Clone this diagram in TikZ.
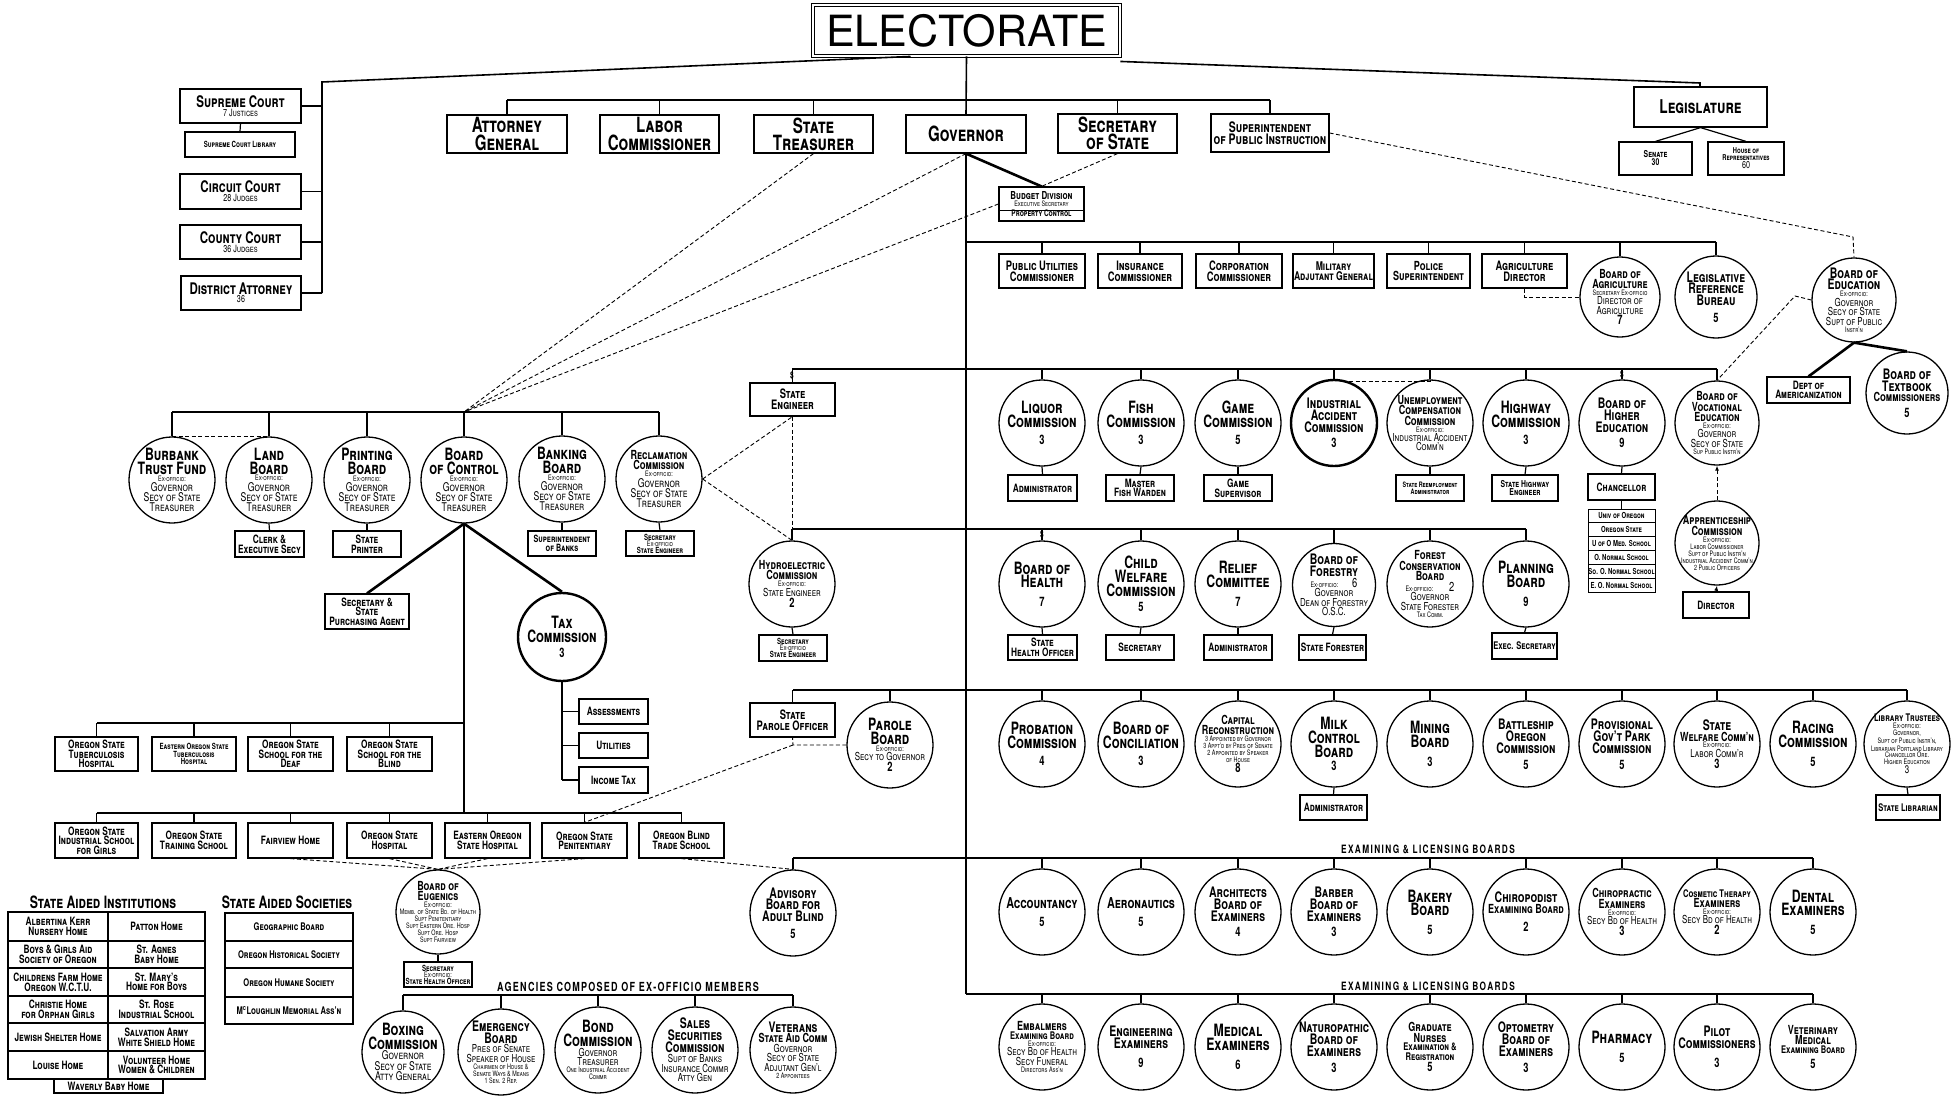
\documentclass[tikz,border=0pt]{standalone}
\usepackage{fontspec}
\setmainfont{TeX Gyre Heros}[FakeStretch=0.72]
\newfontfamily\widefont{TeX Gyre Heros}
\usetikzlibrary{arrows.meta}
\newcommand\xE{\fontsize{7.5}{0}\selectfont\mdseries}
\newcommand\xN{\fontsize{12}{0}\selectfont\mdseries}
\newcommand\xNn{\fontsize{11}{0}\selectfont\mdseries}
\newcommand\xM{\fontsize{13}{0}\selectfont}
\newcommand\xT{\fontsize{12.5}{0}\selectfont}
\newcommand\xTm{\fontsize{14.5}{0}\selectfont}
\newcommand\xTs{\fontsize{10.5}{0}\selectfont}
\newcommand\xB{\fontsize{10}{0}\selectfont\mdseries}
\newcommand\bxfont{\fontsize{11.5}{0}\selectfont\lineskip=1pt\scshape\bfseries}
\newcommand\topfont{\fontsize{21}{0}\selectfont\lineskip=1.5pt\scshape\bfseries}
\newcommand\midfont{\fontsize{16}{0}\selectfont\lineskip=1.2pt\scshape\bfseries}
\newcommand\labfont{\fontsize{11.5}{11.5}\selectfont\bfseries\addfontfeature{LetterSpace=12}}
\newcommand\Rect[7][]{\node[bx,minimum width={(#5-#3)*1pt},minimum height={(#6-#4)*1pt},#1] (#2) at ({(#3+#5)/2},{(#4+#6)/2}) {#7};}
\newcommand\Circ[4][]{\node[cbox,#1] (#2) at (#3) {}; \node[ctext] (#2-t) at (#2.center) {#4};}
\begin{document}
\begin{tikzpicture}[x=1pt,y=-1pt,
 bx/.style={draw,line width=1.2pt,inner sep=1pt,align=center,font=\bxfont},
 unibox/.style={line width=0.8pt,inner sep=0.5pt,font={\fontsize{8.3}{0}\selectfont\scshape\bfseries}},
 rowa/.style={font={\fontsize{13}{0}\selectfont\lineskip=1.5pt\scshape\bfseries}},
 cbox/.style={draw,circle,line width=1.3pt,minimum size=86pt,inner sep=0pt},
 ctext/.style={align=center,inner sep=0pt,font={\fontsize{17}{0}\selectfont\lineskip=1.2pt\scshape\bfseries}},
 ln/.style={line width=1.6pt},
 sl/.style={line width=1.2pt},
 tl/.style={line width=2.6pt},
 dsh/.style={line width=0.9pt,dash pattern=on 4pt off 2.5pt},
 tbl/.style={line width=1.2pt}]
\useasboundingbox (0,0) rectangle (1959,1097);
% ---------------- top level
\Rect[font={\widefont\fontsize{43}{43}\selectfont},double,double distance=1.6pt,line width=0.9pt]{elect}{813}{5}{1120}{56}{ELECTORATE}
\Rect[font=\topfont]{ag}{447}{115}{567}{153}{Attorney\\General}
\Rect[font=\topfont]{labor}{600}{115}{719}{153}{Labor\\Commissioner}
\Rect[font=\topfont]{treas}{754}{115}{873}{153}{State\\Treasurer}
\Rect[font=\topfont]{gov}{906}{115}{1026}{153}{Governor}
\Rect[font=\topfont]{secst}{1058}{114}{1177}{153}{Secretary\\of State}
\Rect[font={\fontsize{14.5}{0}\selectfont\lineskip=1pt\scshape\bfseries}]{supt}{1211}{114}{1329}{152}{Superintendent\\of Public Instruction}
\coordinate (tb) at (966,100);
\draw[ln] (ag.north |- tb) -- (supt.north |- tb);
\foreach \q in {ag,labor,treas,secst,supt} \draw[ln] (\q.north) -- (\q.north |- tb);
\draw[ln] (elect.south) -- (gov.north);
% courts
\Rect[font=\midfont]{sc}{180}{89}{301}{123}{Supreme Court\\\xB 7 Justices}
\Rect[font={\fontsize{8.5}{0}\selectfont\scshape\bfseries}]{scl}{185}{132}{295}{157}{Supreme Court Library}
\Rect[font=\midfont]{cc}{180}{174}{301}{209}{Circuit Court\\\xB 28 Judges}
\Rect[font=\midfont]{coc}{180}{225}{301}{259}{County Court\\\xB 36 Judges}
\Rect[font=\midfont]{da}{181}{276}{301}{310}{District Attorney\\\xB 36}
\coordinate (eL) at ([xshift=-56pt]elect.south);
\coordinate (ck) at (322,82);
\draw[ln] (eL) -- (ck) -- (ck |- da.east);
\foreach \q in {sc,cc,coc,da} \draw[ln] (\q.east) -- (\q.east -| ck);
\draw[sl] (sc.south) -- (scl.north);
% legislature
\Rect[font={\fontsize{19}{0}\selectfont\scshape\bfseries}]{leg}{1634}{87}{1767}{127}{Legislature}
\Rect[font={\fontsize{9.5}{0}\selectfont\lineskip=1pt\scshape\bfseries}]{senate}{1619}{142}{1692}{175}{Senate\\30}
\Rect[font={\fontsize{8}{0}\selectfont\lineskip=1pt\scshape\bfseries}]{house}{1708}{142}{1784}{175}{House of\\Representatives\\\xB 60}
\coordinate (lk) at (1700,83);
\draw[ln] ([yshift=-5pt]elect.south east) -- (lk) -- (lk |- leg.north);
\draw[sl] (leg.south) -- (senate.north);
\draw[sl] (leg.south) -- (house.north);
% budget
\Rect[font={\fontsize{11}{0}\selectfont\lineskip=1pt\scshape\bfseries}]{budget}{999}{187}{1084}{221}{Budget Division\\\xE Executive Secretary\\[2pt]\fontsize{9}{0}\selectfont Property Control}
\draw[line width=0.7pt] (budget.west |- 0,210) -- (budget.east |- 0,210);
\draw[tl] (gov.south) -- (budget.north);
\draw[dsh] (secst.south) -- (budget.north);
% trunk
\coordinate (tF) at (966,994);
\draw[line width=2.4pt] (gov.south) -- (tF);
% ---------------- board of control group
\coordinate (hub) at (464,412);
\draw[dsh] (treas.south) -- (hub);
\draw[dsh] (gov.south) -- (hub);
\draw[dsh] (budget.west) -- (hub);
\Circ{burb}{172,480}{Burbank\\Trust Fund\\\xE Ex-officio:\\\xN Governor\\\xN Secy of State\\\xN Treasurer}
\Circ{land}{269,480}{Land\\Board\\\xE Ex-officio:\\\xN Governor\\\xN Secy of State\\\xN Treasurer}
\Circ{print}{367,480}{Printing\\Board\\\xE Ex-officio:\\\xN Governor\\\xN Secy of State\\\xN Treasurer}
\Circ{boc}{464,480}{Board\\of Control\\\xE Ex-officio:\\\xN Governor\\\xN Secy of State\\\xN Treasurer}
\Circ{bank}{562,479}{Banking\\Board\\\xE Ex-officio:\\\xN Governor\\\xN Secy of State\\\xN Treasurer}
\Circ{recl}{659,479}{\xT Reclamation\\\xT Commission\\\xE Ex-officio:\\\xN Governor\\\xN Secy of State\\\xN Treasurer}
\draw[ln] (hub -| burb.north) -- (hub -| recl.north);
\foreach \q in {burb,land,print,boc,bank,recl} \draw[ln] (\q.north) -- (\q.north |- hub);
\draw[dsh] (burb.north) -- (land.north);
\Rect{clerk}{235}{531}{304}{557}{Clerk \&\\Executive Secy}
\Rect{sprinter}{333}{531}{401}{557}{State\\Printer}
\Rect[font={\fontsize{10}{0}\selectfont\lineskip=1pt\scshape\bfseries}]{supbanks}{528}{531}{596}{556}{Superintendent\\of Banks}
\Rect[font={\fontsize{8.5}{0}\selectfont\lineskip=0.6pt\scshape\bfseries}]{reclsec}{626}{531}{694}{556}{Secretary\\\xE Ex-officio\\State Engineer}
\draw[sl] (land.south) -- (clerk.north);
\draw[sl] (print.south) -- (sprinter.north);
\draw[sl] (bank.south) -- (supbanks.north);
\draw[sl] (recl.south) -- (reclsec.north);
\Rect{purch}{325}{594}{409}{629}{Secretary \&\\State\\Purchasing Agent}
\Circ[line width=2.4pt,minimum size=88pt]{tax}{562,637}{Tax\\Commission\\[5pt]\xM 3}
\draw[tl] (boc.south) -- (purch.north);
\draw[tl] (boc.south) -- (tax.north);
\Rect{assess}{579}{699}{648}{724}{Assessments}
\Rect{util}{579}{733}{648}{758}{Utilities}
\Rect{inctax}{579}{767}{648}{793}{Income Tax}
\draw[ln] (tax.south) -- (tax.south |- inctax.west);
\foreach \q in {assess,util,inctax} \draw[ln] (\q.west) -- (\q.west -| tax.south);
% institutions
\coordinate (i1) at (464,723);
\coordinate (i2) at (464,813);
\draw[ln] (boc.south) -- (i2);
\Rect{tbh}{55}{737}{138}{771}{Oregon State\\Tuberculosis\\Hospital}
\Rect[font={\fontsize{8.5}{0}\selectfont\lineskip=1pt\scshape\bfseries}]{eotbh}{152}{737}{236}{771}{Eastern Oregon State\\Tuberculosis\\Hospital}
\Rect{deaf}{248}{737}{333}{771}{Oregon State\\School for the\\Deaf}
\Rect{blindsch}{347}{737}{432}{771}{Oregon State\\School for the\\Blind}
\Rect{girls}{55}{823}{138}{858}{Oregon State\\Industrial School\\for Girls}
\Rect{train}{152}{823}{236}{858}{Oregon State\\Training School}
\Rect{fair}{248}{823}{333}{858}{Fairview Home}
\Rect{osh}{347}{823}{432}{858}{Oregon State\\Hospital}
\Rect{eosh}{445}{823}{530}{858}{Eastern Oregon\\State Hospital}
\Rect{pen}{542}{823}{627}{858}{Oregon State\\Penitentiary}
\Rect{btrade}{639}{823}{724}{858}{Oregon Blind\\Trade School}
\draw[ln] (i1) -- (i1 -| tbh.north);
\foreach \q in {tbh,eotbh,deaf,blindsch} \draw[ln] (\q.north) -- (\q.north |- i1);
\draw[ln] (i2 -| girls.north) -- (i2 -| btrade.north);
\foreach \q in {girls,train,fair,osh,eosh,pen,btrade} \draw[ln] (\q.north) -- (\q.north |- i2);
% eugenics
\Circ[minimum size=84pt]{eug}{438,912}{\xT Board of\\\xT Eugenics\\\xE Ex-officio:\\\xE Memb. of State Bd. of Health\\\xE Supt Penitentiary\\\xE Supt Eastern Ore. Hosp\\\xE Supt Ore. Hosp\\\xE Supt Fairview}
\foreach \q in {fair,osh,eosh,pen} \draw[dsh] (\q.south) -- (eug.north);
\Rect[font={\fontsize{8.5}{0}\selectfont\lineskip=0.6pt\scshape\bfseries}]{eugsec}{404}{962}{472}{987}{Secretary\\\xE Ex-officio:\\State Health Officer}
\draw[sl] (eug.south) -- (eugsec.north);
% agencies
\node[font={\fontsize{12.5}{12.5}\selectfont\bfseries\addfontfeature{LetterSpace=10}}] (aglab) at (628,987) {AGENCIES COMPOSED OF EX-OFFICIO MEMBERS};
\coordinate (ga) at (403,995);
\Circ[minimum size=82pt]{boxing}{403,1052}{Boxing\\Commission\\\xN Governor\\\xN Secy of State\\\xN Atty General}
\Circ{emerg}{501,1052}{\xTm Emergency\\\xTm Board\\\xNn Pres of Senate\\\xNn Speaker of House\\\xE Chairmen of House \&\\\xE Senate Ways \& Means\\\xE 1 Sen. 2 Rep.}
\Circ{bond}{598,1050}{Bond\\Commission\\\xNn Governor\\\xNn Treasurer\\\xE One Industrial Accident\\\xE Commr}
\Circ{sales}{695,1050}{\xTm Sales\\\xTm Securities\\\xTm Commission\\\xNn Supt of Banks\\\xNn Insurance Commr\\\xNn Atty Gen}
\Circ{vets}{793,1050}{\xTm Veterans\\\xT State Aid Comm\\\xNn Governor\\\xNn Secy of State\\\xNn Adjutant Gen'l\\\xE 2 Appointees}
\draw[ln] (ga -| boxing.north) -- (ga -| vets.north);
\foreach \q in {boxing,emerg,bond,sales,vets} \draw[ln] (\q.north) -- (\q.north |- ga);
% state aided institutions table
\node[font={\fontsize{17}{17}\selectfont\scshape\bfseries}] (sait) at (103,902) {State Aided Institutions};
\draw[tbl] (8,912) rectangle (205,1079);
\draw[tbl] (108,912) -- (108,1079);
\foreach \yy in {941,968,996,1023,1051} \draw[tbl] (8,\yy) -- (205,\yy);
\Rect{waverly}{54}{1079}{163}{1093}{Waverly Baby Home}
\begin{scope}[every node/.style={align=center,font=\bxfont,inner sep=0pt}]
\node (l1) at (58,926.5) {Albertina Kerr\\Nursery Home};
\node (r1) at (156.5,926.5) {Patton Home};
\node (l2) at (58,954.5) {Boys \& Girls Aid\\Society of Oregon};
\node (r2) at (156.5,954.5) {St. Agnes\\Baby Home};
\node (l3) at (58,982) {Childrens Farm Home\\Oregon W.C.T.U.};
\node (r3) at (156.5,982) {St. Mary's\\Home for Boys};
\node (l4) at (58,1009.5) {Christie Home\\for Orphan Girls};
\node (r4) at (156.5,1009.5) {St. Rose\\Industrial School};
\node (l5) at (58,1037) {Jewish Shelter Home};
\node (r5) at (156.5,1037) {Salvation Army\\White Shield Home};
\node (l6) at (58,1065) {Louise Home};
\node (r6) at (156.5,1065) {Volunteer Home\\Women \& Children};
\end{scope}
\begin{scope}[every node/.style={align=center,font={\fontsize{10.5}{0}\selectfont\scshape\bfseries},inner sep=0pt}]
\node (s1) at (289,927) {Geographic Board};
\node (s2) at (289,954.5) {Oregon Historical Society};
\node (s3) at (289,982.5) {Oregon Humane Society};
\node (s4) at (289,1010.5) {M\textsuperscript{c}Loughlin Memorial Ass'n};
\end{scope}
\node[font={\fontsize{17}{17}\selectfont\scshape\bfseries}] (sast) at (287,902) {State Aided Societies};
\draw[tbl] (225,913) rectangle (353,1024);
\foreach \yy in {941,968,997} \draw[tbl] (225,\yy) -- (353,\yy);
% ---------------- governor's right side
\coordinate (sk) at (1853,237);
% row A
\Rect[rowa]{pubu}{999}{254}{1085}{288}{Public Utilities\\Commissioner}
\Rect[rowa]{insur}{1098}{254}{1182}{288}{Insurance\\Commissioner}
\Rect[rowa]{corp}{1196}{254}{1282}{288}{Corporation\\Commissioner}
\Rect[font={\fontsize{12}{0}\selectfont\lineskip=1.5pt\scshape\bfseries}]{mil}{1293}{254}{1374}{288}{Military\\Adjutant General}
\Rect[font={\fontsize{12.5}{0}\selectfont\lineskip=1.5pt\scshape\bfseries}]{police}{1387}{254}{1470}{288}{Police\\Superintendent}
\Rect[rowa]{agdir}{1482}{254}{1567}{288}{Agriculture\\Director}
\Circ[minimum size=80pt]{boa}{1620,297}{\xT Board of\\\xT Agriculture\\\xE Secretary Ex-officio\\\xNn Director of\\\xNn Agriculture\\\xM 7}
\Circ[minimum size=82pt]{lrb}{1716,297}{\xTm Legislative\\\xTm Reference\\\xTm Bureau\\[6pt]\xM 5}
\Circ[minimum size=84pt]{boe}{1854,300}{\xTm Board of\\\xTm Education\\\xE Ex-officio:\\\xNn Governor\\\xNn Secy of State\\\xNn Supt of Public\\\xE Instr'n}
\draw[dsh] (supt.east) -- (sk) -- (boe.north);
\coordinate (bA) at (966,242);
\draw[ln] (bA) -- (bA -| lrb.north);
\foreach \q in {pubu,insur,corp,mil,police,agdir,boa,lrb} \draw[ln] (\q.north) -- (\q.north |- bA);
\draw[dsh] (agdir.south) -- (agdir.south |- boa.west) -- (boa.west);
\Rect{amer}{1767}{377}{1850}{403}{Dept of\\Americanization}
\Circ[minimum size=82pt]{textb}{1907,393}{\xTm Board of\\\xTm Textbook\\\xT Commissioners\\[5pt]\xM 5}
\draw[tl] (boe.south) -- (amer.north);
\draw[tl] (boe.south) -- (textb.north);
% row B
\Rect[font={\fontsize{13}{0}\selectfont\lineskip=1.5pt\scshape\bfseries}]{stEng}{750}{383}{835}{416}{State\\Engineer}
\Circ{liquor}{1042,423}{Liquor\\Commission\\[6pt]\xM 3}
\Circ{fish}{1141,423}{Fish\\Commission\\[6pt]\xM 3}
\Circ{game}{1238,423}{Game\\Commission\\[6pt]\xM 5}
\Circ[line width=2.4pt]{indacc}{1334,423}{\xTm Industrial\\\xTm Accident\\\xTm Commission\\[4pt]\xM 3}
\Circ{unemp}{1430,423}{\xT Unemployment\\\xT Compensation\\\xT Commission\\\xE Ex-officio:\\\xNn Industrial Accident\\\xNn Comm'n}
\Circ{hwy}{1526,423}{Highway\\Commission\\[6pt]\xM 3}
\Circ{bhe}{1622,423}{\xTm Board of\\\xTm Higher\\\xTm Education\\[4pt]\xM 9}
\Circ[minimum size=84pt]{bve}{1717,423}{\xT Board of\\\xT Vocational\\\xT Education\\\xE Ex-officio:\\\xNn Governor\\\xNn Secy of State\\\xE Sup Public Instr'n}
\coordinate (bB) at (792,369);
\draw[ln] (bB) -- (bB -| bve.north);
\foreach \q in {stEng,liquor,fish,game,indacc,unemp,hwy,bhe,bve} \draw[ln] (\q.north) -- (\q.north |- bB);
\draw[dsh] (indacc.70) -- (indacc.70 -| unemp.north) -- (unemp.north);
\coordinate (bk) at (1795,296);
\draw[dsh] (boe.west) -- (bk) -- (bve.north);
\Rect{liqAdm}{1008}{475}{1077}{501}{Administrator}
\Rect{fishW}{1106}{475}{1174}{501}{Master\\Fish Warden}
\Rect{gameS}{1204}{475}{1272}{501}{Game\\Supervisor}
\Rect[font={\fontsize{7.5}{0}\selectfont\lineskip=1pt\scshape\bfseries}]{reemp}{1396}{475}{1464}{501}{State Reemployment\\Administrator}
\Rect[font={\fontsize{9.5}{0}\selectfont\lineskip=1pt\scshape\bfseries}]{hwyEng}{1492}{475}{1558}{501}{State Highway\\Engineer}
\Rect{chanc}{1588}{474}{1655}{500}{Chancellor}
\draw[sl] (liquor.south) -- (liqAdm.north);
\draw[sl] (fish.south) -- (fishW.north);
\draw[sl] (game.south) -- (gameS.north);
\draw[sl] (unemp.south) -- (reemp.north);
\draw[sl] (hwy.south) -- (hwyEng.north);
\draw[sl] (bhe.south) -- (chanc.north);
\Rect[unibox]{uni1}{1588}{509}{1655}{522.8}{Univ of Oregon}
\Rect[unibox]{uni2}{1588}{522.8}{1655}{536.7}{Oregon State}
\Rect[unibox]{uni3}{1588}{536.7}{1655}{550.5}{U of O Med. School}
\Rect[unibox]{uni4}{1588}{550.5}{1655}{564.3}{O. Normal School}
\Rect[unibox]{uni5}{1588}{564.3}{1655}{578.2}{So. O. Normal School}
\Rect[unibox]{uni6}{1588}{578.2}{1655}{592}{E. O. Normal School}
\draw[sl] (chanc.south) -- (uni1.north);
\Circ[minimum size=84pt]{appr}{1717,543}{\xT Apprenticeship\\\xT Commission\\\xE Ex-officio:\\\xE Labor Commissioner\\\xE Supt of Public Instr'n\\\xE Industrial Accident Comm'n\\\xE 2 Public Officers}
\Rect{dir}{1683}{592}{1749}{618}{Director}
\draw[dsh,-{Latex[length=5pt,width=4pt]}] (appr.north) -- (bve.south);
\draw[sl,-{Latex[length=5pt,width=4pt]}] (dir.north) -- (appr.south);
% row C
\Circ{hydro}{792,584}{\xT Hydroelectric\\\xT Commission\\\xE Ex-officio:\\\xNn State Engineer\\[1pt]\xM 2}
\Circ{health}{1042,584}{Board of\\Health\\[8pt]\xM 7}
\Circ{cwel}{1141,584}{Child\\Welfare\\Commission\\[5pt]\xM 5}
\Circ{relief}{1238,584}{Relief\\Committee\\[8pt]\xM 7}
\Circ[minimum size=83pt]{forestry}{1334,585}{\xTm Board of\\\xTm Forestry\\\xE Ex-officio:\hspace{14pt}{\xM 6}\\\xNn Governor\\\xNn Dean of Forestry\\\xNn O.S.C.}
\Circ{fcons}{1430,584}{\xT Forest\\\xT Conservation\\\xT Board\\\xE Ex-officio:\hspace{16pt}{\xM 2}\\\xNn Governor\\\xNn State Forester\\\xE Tax Comm.}
\Circ{plan}{1526,584}{Planning\\Board\\[8pt]\xM 9}
\coordinate (bC) at (792,529);
\draw[ln] (bC) -- (bC -| plan.north);
\foreach \q in {hydro,health,cwel,relief,forestry,fcons,plan} \draw[ln] (\q.north) -- (\q.north |- bC);
\draw[dsh] (stEng.south) -- (stEng.south |- bC);
\draw[dsh] (recl.east) -- (stEng.south);
\draw[dsh] (recl.east) -- (hydro.north);
\Rect{healthOff}{1008}{635}{1077}{660}{State\\Health Officer}
\Rect{cwSec}{1106}{635}{1174}{660}{Secretary}
\Rect{relAdm}{1204}{635}{1272}{660}{Administrator}
\Rect{forester}{1299}{635}{1366}{660}{State Forester}
\Rect[font={\fontsize{10.5}{0}\selectfont\scshape\bfseries}]{execSec}{1492}{633}{1557}{659}{Exec. Secretary}
\Rect[font={\fontsize{8.5}{0}\selectfont\lineskip=0.6pt\scshape\bfseries}]{hydroSec}{759}{635}{827}{661}{Secretary\\\xE Ex-officio\\State Engineer}
\draw[sl] (health.south) -- (healthOff.north);
\draw[sl] (cwel.south) -- (cwSec.north);
\draw[sl] (relief.south) -- (relAdm.north);
\draw[sl] (forestry.south) -- (forester.north);
\draw[sl] (plan.south) -- (execSec.north);
\draw[sl] (hydro.south) -- (hydroSec.north);
% row D
\Rect[font={\fontsize{13}{0}\selectfont\lineskip=1.5pt\scshape\bfseries}]{parOff}{750}{703}{835}{737}{State\\Parole Officer}
\Circ{parole}{890,745}{Parole\\Board\\\xE Ex-officio:\\\xNn Secy to Governor\\\xM 2}
\Circ{prob}{1042,744}{Probation\\Commission\\[6pt]\xM 4}
\Circ{concil}{1141,744}{Board of\\Conciliation\\[6pt]\xM 3}
\Circ{capital}{1238,744}{\xT Capital\\\xT Reconstruction\\\xE 3 Appointed by Governor\\\xE 3 Appt'd by Pres of Senate\\\xE 2 Appointed by Speaker\\\xE of House\\\xM 8}
\Circ{milk}{1334,744}{Milk\\Control\\Board\\[3pt]\xM 3}
\Circ{mining}{1430,744}{Mining\\Board\\[8pt]\xM 3}
\Circ{battle}{1526,744}{\xTm Battleship\\\xTm Oregon\\\xTm Commission\\[5pt]\xM 5}
\Circ{prov}{1622,744}{\xTm Provisional\\\xTm Gov't Park\\\xTm Commission\\[5pt]\xM 5}
\Circ{welf}{1717,744}{\xTm State\\\xT Welfare Comm'n\\\xE Ex-officio:\\\xNn Labor Comm'r\\\xM 3}
\Circ{racing}{1813,744}{Racing\\Commission\\[8pt]\xM 5}
\Circ{lib}{1907,744}{\xTs Library Trustees\\\xE Ex-officio:\\\xE Governor,\\\xE Supt of Public Instr'n,\\\xE Librarian Portland Library\\\xE Chancellor Ore.\\\xE Higher Education\\\xNn 3}
\coordinate (bD) at (793,690);
\draw[ln] (bD) -- (bD -| lib.north);
\foreach \q in {parOff,parole,prob,concil,capital,milk,mining,battle,prov,welf,racing,lib} \draw[ln] (\q.north) -- (\q.north |- bD);
\coordinate (pk) at (793,745);
\draw[dsh] (parole.west) -- (pk) -- (parOff.south);
\draw[dsh] (pk) -- (pen.north);
\Rect{milkAdm}{1300}{795}{1367}{820}{Administrator}
\Rect[font={\fontsize{10.5}{0}\selectfont\scshape\bfseries}]{stLib}{1876}{795}{1940}{820}{State Librarian}
\draw[sl] (milk.south) -- (milkAdm.north);
\draw[sl] (lib.south) -- (stLib.north);
% row E
\node[font=\labfont] (exlab1) at (1428,849) {EXAMINING \& LICENSING BOARDS};
\Circ{adv}{793,913}{\xTm Advisory\\\xTm Board for\\\xTm Adult Blind\\[6pt]\xM 5}
\draw[dsh] (btrade.south) -- (adv.north);
\Circ{acct}{1042,912}{\fontsize{15}{0}\selectfont Accountancy\\[8pt]\xM 5}
\Circ{aero}{1141,912}{\fontsize{15}{0}\selectfont Aeronautics\\[8pt]\xM 5}
\Circ{arch}{1238,912}{\xTm Architects\\\xTm Board of\\\xTm Examiners\\[5pt]\xM 4}
\Circ{barber}{1334,912}{\xTm Barber\\\xTm Board of\\\xTm Examiners\\[5pt]\xM 3}
\Circ{bakery}{1430,912}{Bakery\\Board\\[8pt]\xM 5}
\Circ{chirop}{1526,912}{\xTm Chiropodist\\\xT Examining Board\\[8pt]\xM 2}
\Circ{chiro}{1622,912}{\xT Chiropractic\\\xT Examiners\\\xE Ex-officio:\\\xNn Secy Bd of Health\\\xM 3}
\Circ{cosm}{1717,912}{\xTs Cosmetic Therapy\\\xT Examiners\\\xE Ex-officio:\\\xNn Secy Bd of Health\\\xM 2}
\Circ{dental}{1813,912}{Dental\\Examiners\\[8pt]\xM 5}
\coordinate (bE) at (793,858);
\draw[ln] (bE) -- (bE -| dental.north);
\foreach \q in {adv,acct,aero,arch,barber,bakery,chirop,chiro,cosm,dental} \draw[ln] (\q.north) -- (\q.north |- bE);
% row F
\node[font=\labfont] (exlab2) at (1428,986) {EXAMINING \& LICENSING BOARDS};
\Circ{embalm}{1042,1047}{\xT Embalmers\\\xTs Examining Board\\\xE Ex-officio:\\\xNn Secy Bd of Health\\\xNn Secy Funeral\\\xE Directors Ass'n}
\Circ{engin}{1141,1047}{\xTm Engineering\\\xTm Examiners\\[8pt]\xM 9}
\Circ{medical}{1238,1047}{Medical\\Examiners\\[8pt]\xM 6}
\Circ{naturo}{1334,1047}{\xTm Naturopathic\\\xTm Board of\\\xTm Examiners\\[5pt]\xM 3}
\Circ{nurses}{1430,1047}{\xT Graduate\\\xT Nurses\\\xTs Examination \&\\\xTs Registration\\[1pt]\xM 5}
\Circ{optom}{1526,1047}{\xTm Optometry\\\xTm Board of\\\xTm Examiners\\[5pt]\xM 3}
\Circ{pharm}{1622,1047}{Pharmacy\\[8pt]\xM 5}
\Circ{pilot}{1717,1047}{\xTm Pilot\\\xTm Commissioners\\[8pt]\xM 3}
\Circ{vet}{1813,1047}{\xT Veterinary\\\xT Medical\\\xTs Examining Board\\[5pt]\xM 5}
\draw[ln] (tF) -- (tF -| vet.north);
\foreach \q in {embalm,engin,medical,naturo,nurses,optom,pharm,pilot,vet} \draw[ln] (\q.north) -- (\q.north |- tF);
% dollar marks
\node[font={\fontsize{9}{9}\selectfont\bfseries}] (d1) at (792,376) {\$};
\node[font={\fontsize{9}{9}\selectfont\bfseries}] (d2) at (1622,375) {\$};
\node[font={\fontsize{9}{9}\selectfont\bfseries}] (d3) at (1042,535) {\$};
\end{tikzpicture}
\end{document}
